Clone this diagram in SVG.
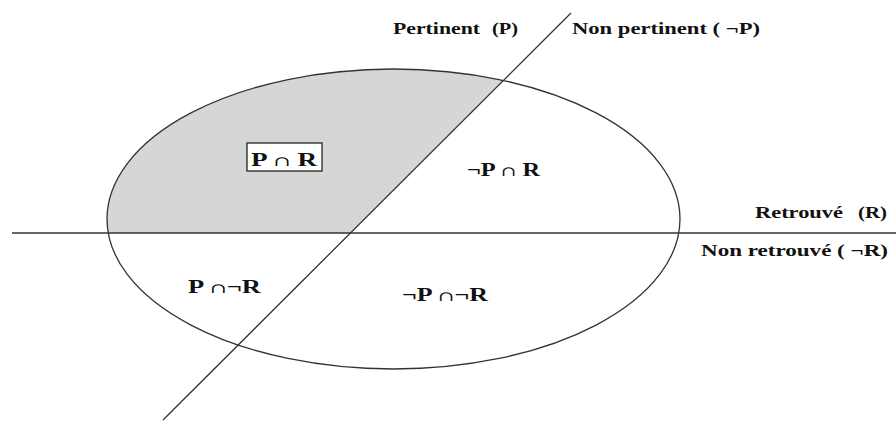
<svg xmlns="http://www.w3.org/2000/svg" width="896" height="421" viewBox="0 0 896 421">
<style>
text{font-family:"Liberation Serif","Times New Roman",serif;font-weight:bold;fill:#111;}
.lbl{font-size:17px;}
.reg{font-size:18px;}
.cap{font-size:14px;font-family:"DejaVu Serif","Liberation Serif",serif;font-weight:normal;}
.ln{stroke:#333;stroke-width:1.3;fill:none;}
</style>
<defs>
<clipPath id="ell"><ellipse cx="393.5" cy="219" rx="286.5" ry="150"/></clipPath>
</defs>
<rect width="896" height="421" fill="#fff"/>
<g id="shade">
<polygon points="0,0 584,0 350.5,233 0,233" fill="#d6d6d6" clip-path="url(#ell)"/>
</g>
<g id="connectors">
<ellipse class="ln" cx="393.5" cy="219" rx="286.5" ry="150"/>
<line class="ln" x1="12" y1="233" x2="896" y2="233"/>
<line class="ln" x1="571" y1="13" x2="163" y2="420"/>
</g>
<g id="label-pertinent">
<text class="lbl" x="393" y="34" textLength="87" lengthAdjust="spacingAndGlyphs">Pertinent</text>
<text class="lbl" x="492" y="34" textLength="26" lengthAdjust="spacingAndGlyphs">(P)</text>
</g>
<g id="label-non-pertinent">
<text class="lbl" x="572" y="34" textLength="188" lengthAdjust="spacingAndGlyphs">Non pertinent (  ¬P)</text>
</g>
<g id="label-retrouve">
<text class="lbl" x="755" y="218" textLength="88" lengthAdjust="spacingAndGlyphs">Retrouvé</text>
<text class="lbl" x="858" y="218" textLength="29" lengthAdjust="spacingAndGlyphs">(R)</text>
</g>
<g id="label-non-retrouve">
<text class="lbl" x="701" y="256" textLength="187" lengthAdjust="spacingAndGlyphs">Non retrouvé ( ¬R)</text>
</g>
<g id="region-p-r">
<rect x="247" y="143" width="75" height="28" fill="#fff" stroke="#222" stroke-width="1.3"/>
<text class="reg" x="251" y="166" textLength="66" lengthAdjust="spacingAndGlyphs">P <tspan class="cap">∩</tspan> R</text>
</g>
<g id="region-notp-r">
<text class="reg" x="467" y="176" textLength="73" lengthAdjust="spacingAndGlyphs">¬P <tspan class="cap">∩</tspan> R</text>
</g>
<g id="region-p-notr">
<text class="reg" x="188" y="293" textLength="73" lengthAdjust="spacingAndGlyphs">P <tspan class="cap">∩</tspan>¬R</text>
</g>
<g id="region-notp-notr">
<text class="reg" x="402" y="301" textLength="86" lengthAdjust="spacingAndGlyphs">¬P <tspan class="cap">∩</tspan>¬R</text>
</g>
</svg>
